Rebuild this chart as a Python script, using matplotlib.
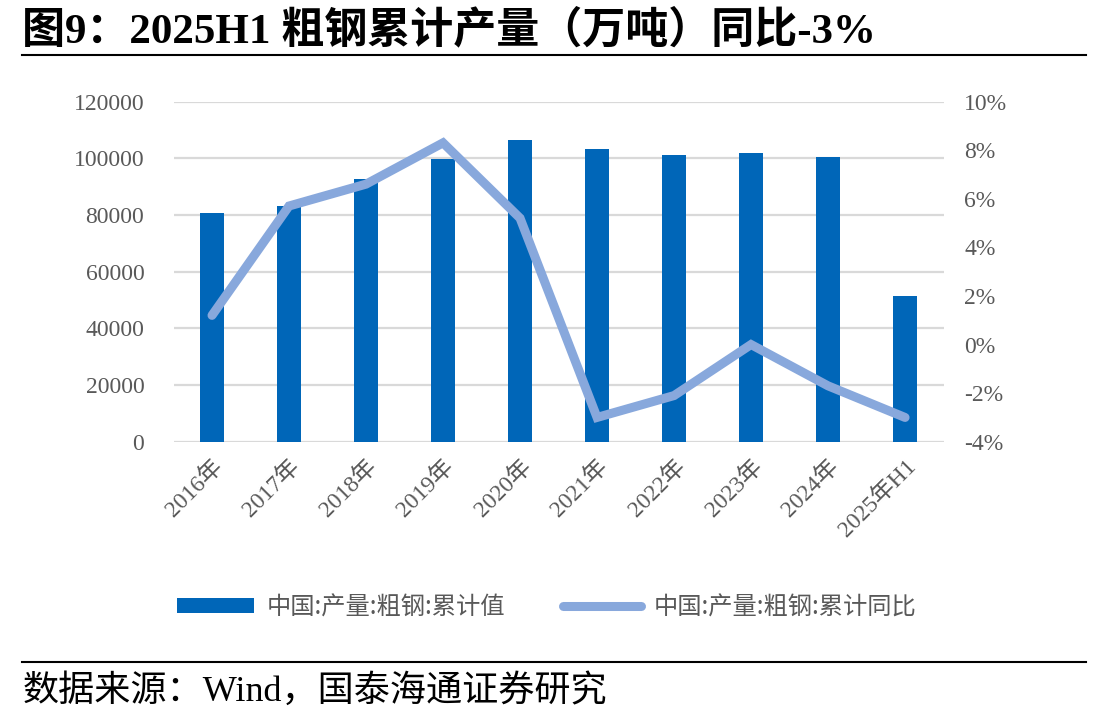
import matplotlib
matplotlib.use("Agg")
import matplotlib.pyplot as plt
import numpy as np
from matplotlib.lines import Line2D
from matplotlib.patches import Patch

categories = ["2016年", "2017年", "2018年", "2019年", "2020年", "2021年", "2022年", "2023年", "2024年", "2025年H1"]
output_wt = [80837, 83173, 92826, 99634, 106477, 103279, 101300, 101908, 100509, 51483]
yoy_pct = [1.2, 5.7, 6.6, 8.3, 5.2, -3.0, -2.1, 0.0, -1.7, -3.0]
left_ticks = [0, 20000, 40000, 60000, 80000, 100000, 120000]
right_ticks = [-4, -2, 0, 2, 4, 6, 8, 10]

SERIF = ["Liberation Serif", "Noto Sans CJK SC"]
CJK = ["Noto Sans CJK SC", "DejaVu Sans"]
plt.rcParams["font.family"] = SERIF

BAR_C = "#0066B8"
LINE_C = "#88A8DC"
GRID_C = "#D9D9D9"
TXT_C = "#595959"

fig = plt.figure(figsize=(11.08, 7.23), dpi=100)
ax = fig.add_axes([0.1566, 0.389, 0.695, 0.4706])
ax2 = ax.twinx()

x = np.arange(len(categories))
ax.bar(x, output_wt, width=0.31, color=BAR_C, zorder=2)
ax.set_ylim(0, 120000)
ax.set_yticks(left_ticks)
ax.set_yticklabels([str(v) for v in left_ticks], fontsize=17, color=TXT_C)
ax.set_xlim(-0.5, len(categories) - 0.5)
ax.set_xticks(x)
ax.set_xticklabels(categories, rotation=45, ha="right", va="top",
                   rotation_mode="anchor", fontsize=17, color=TXT_C)
ax.tick_params(axis="both", length=0)
ax.tick_params(axis="y", pad=21)
ax.tick_params(axis="x", pad=10)
ax.grid(axis="y", color=GRID_C, linewidth=1.6, zorder=0)
ax.set_axisbelow(True)
for s in ax.spines.values():
    s.set_visible(False)

ax2.plot(x, yoy_pct, color=LINE_C, linewidth=6.5, solid_capstyle="round",
         solid_joinstyle="miter", zorder=3)
ax2.set_ylim(-4, 10)
ax2.set_yticks(right_ticks)
ax2.set_yticklabels([f"{v}%" for v in right_ticks], fontsize=17, color=TXT_C)
ax2.tick_params(axis="y", length=0, pad=15)
for s in ax2.spines.values():
    s.set_visible(False)

# Title
fig.text(0.02, 0.958, "图9：2025H1 粗钢累计产量（万吨）同比-3%", fontsize=31,
         fontweight="bold", family=SERIF, ha="left", va="center", color="black")
fig.add_artist(Line2D([0.02, 0.98], [0.924, 0.924], color="black", linewidth=1.5,
                      transform=fig.transFigure))
fig.add_artist(Line2D([0.02, 0.98], [0.085, 0.085], color="black", linewidth=1.5,
                      transform=fig.transFigure))
fig.text(0.02, 0.044, "数据来源：Wind，国泰海通证券研究", fontsize=26,
         family=SERIF, ha="left", va="center", color="black")

handles = [Patch(facecolor=BAR_C, edgecolor="none"),
           Line2D([0], [0], color=LINE_C, linewidth=6.5, solid_capstyle="round")]
labels = ["中国:产量:粗钢:累计值", "中国:产量:粗钢:累计同比"]
leg = fig.legend(handles, labels, loc="center", bbox_to_anchor=(0.493, 0.16), ncol=2,
                 frameon=False, prop={"family": CJK, "size": 17.5},
                 handlelength=3.2, handleheight=0.55, columnspacing=2.4, handletextpad=0.5)
for t in leg.get_texts():
    t.set_color(TXT_C)

fig.savefig("out.png", dpi=100)
